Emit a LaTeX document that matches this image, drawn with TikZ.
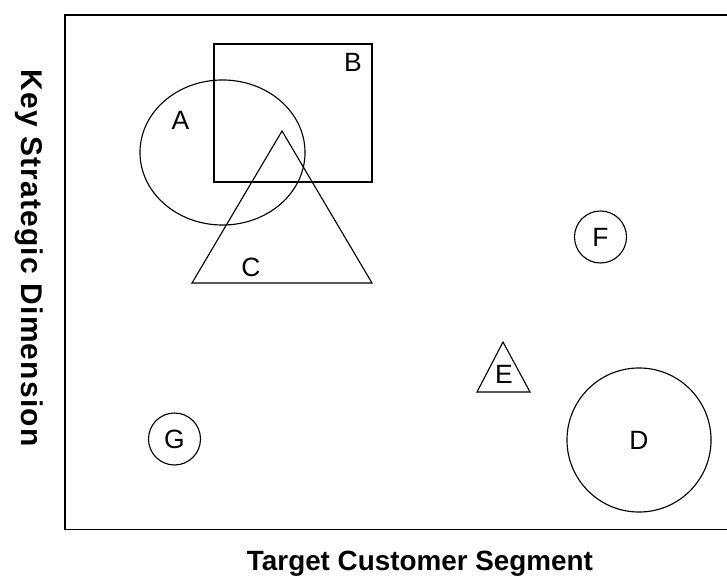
\documentclass[tikz,border=0pt]{standalone}
\usepackage{fontspec}
\setmainfont{Liberation Sans}
\usepackage{tikz}

\begin{document}
\begin{tikzpicture}[
    x=0.025cm, y=-0.025cm,
    seg/.style={draw, line width=0.8pt},
    tag/.style={font=\fontsize{18.8}{20}\selectfont, inner sep=0pt},
    bubble/.style={seg, circle, tag},
    axis/.style={font=\fontsize{19.8}{22}\selectfont\bfseries}
]

\useasboundingbox (0,0) rectangle (727,576);

% plot frame, open to the right
\draw[line width=1.4pt] (727,15) -- (65,15) -- (65,529.5) -- (727,529.5);

% overlapping segments
\draw[seg] (222.5,152.5) ellipse [x radius=2.0625cm, y radius=1.8125cm];
\node[tag] (A) at (180.5,120.5) {A};

\draw[seg] (214,44) rectangle (372,182);
\node[tag] (B) at (353,62) {B};

\draw[seg] (282,131) -- (372,283) -- (192,283) -- cycle;
\node[tag] (C) at (251,267) {C};

% single segments
\draw[seg] (503,342) -- (530,392) -- (477,392) -- cycle;
\node[tag] (E) at (504,374.5) {E};

\node[bubble, minimum size=1.3cm] (F) at (600.5,237) {F};
\node[bubble, minimum size=1.3cm] (G) at (174.5,439) {G};
\node[bubble, minimum size=3.6cm] (D) at (639,440) {D};

% axis titles
\node[axis, anchor=base] (xtitle) at (420,570.5) {Target Customer Segment};
\node[axis, rotate=-90, anchor=base,
      font=\fontsize{21.3}{24}\selectfont\bfseries\addfontfeature{LetterSpace=4}]
      (ytitle) at (21,258) {Key Strategic Dimension};

\end{tikzpicture}
\end{document}
